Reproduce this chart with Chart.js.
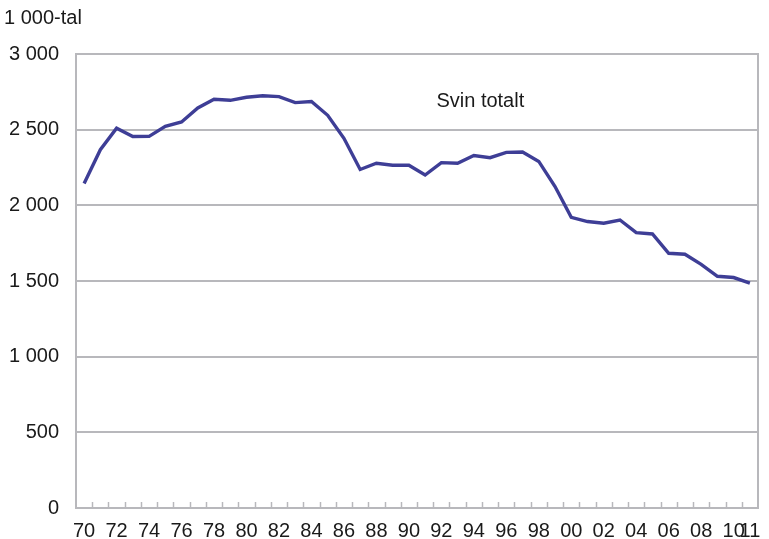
<!DOCTYPE html>
<html>
<head>
<meta charset="utf-8">
<script src="https://cdn.jsdelivr.net/npm/chart.js@4/dist/chart.umd.min.js"></script>
<style>
  html, body { margin: 0; padding: 0; background: #fff; }
  #wrap { width: 769px; height: 539px; }
</style>
</head>
<body>
<div id="wrap"><canvas id="svin"></canvas></div>
<script>
// Svin totalt, 1 000-tal, 1970-2011

const aar = ['70','71','72','73','74','75','76','77','78','79',
             '80','81','82','83','84','85','86','87','88','89',
             '90','91','92','93','94','95','96','97','98','99',
             '00','01','02','03','04','05','06','07','08','09',
             '10','11'];

const svinTotalt = [2145, 2368, 2510, 2455, 2456, 2522, 2551, 2643, 2701, 2694,
                    2714, 2724, 2718, 2679, 2686, 2595, 2443, 2237, 2278, 2265,
                    2265, 2200, 2282, 2278, 2329, 2315, 2350, 2352, 2290, 2124,
                    1921, 1893, 1882, 1903, 1820, 1811, 1683, 1677, 1610, 1531,
                    1523, 1486];

const yTicks = [0, 500, 1000, 1500, 2000, 2500, 3000];

const GRAA = '#b8b8bc';
const FONT = '"Liberation Sans", Arial, sans-serif';

function tusen(v) {
    // 1 000-stil med mellomrom
    return String(v).replace(/\B(?=(\d{3})+(?!\d))/g, ' ');
}

// Små markeringer oppover fra x-aksen + tekster
const ekstra = {
    id: 'ekstra',
    afterDraw(chart) {
        const ctx = chart.ctx;
        const x = chart.scales.x;
        const y = chart.scales.y;
        const bunn = chart.chartArea.bottom;

        ctx.save();
        ctx.strokeStyle = GRAA;
        ctx.lineWidth = 1.5;
        for (let i = 1; i < aar.length; i++) {
            const px = Math.round((x.getPixelForValue(i - 1) + x.getPixelForValue(i)) / 2) + 0.5;
            ctx.beginPath();
            ctx.moveTo(px, bunn);
            ctx.lineTo(px, bunn - 6);
            ctx.stroke();
        }

        ctx.fillStyle = '#1a1a1a';
        ctx.font = '20px ' + FONT;
        ctx.textBaseline = 'middle';
        ctx.textAlign = 'left';
        ctx.fillText('1 000-tal', 4, 18);

        ctx.textAlign = 'center';
        ctx.fillText('Svin totalt', x.getPixelForValue(24.4), y.getPixelForValue(2685));
        ctx.restore();
    }
};

new Chart(document.getElementById('svin'), {
    type: 'line',
    data: {
        labels: aar,
        datasets: [{
            label: 'Svin totalt',
            data: svinTotalt,
            borderColor: '#3e3e96',
            borderWidth: 3.4,
            pointRadius: 0,
            tension: 0,
            fill: false
        }]
    },
    options: {
        responsive: true,
        maintainAspectRatio: false,
        animation: false,
        layout: { padding: { top: 54, right: 11, left: 0, bottom: 0 } },
        plugins: {
            legend: { display: false },
            tooltip: { enabled: false }
        },
        scales: {
            x: {
                offset: true,
                border: { color: GRAA, width: 2 },
                grid: { display: false, drawTicks: false },
                ticks: {
                    autoSkip: false,
                    maxRotation: 0,
                    padding: 11,
                    color: '#1a1a1a',
                    font: { family: FONT, size: 20 },
                    callback: (v, i) => (i % 2 === 0 || i === aar.length - 1) ? aar[i] : null
                },
                afterFit(scale) {
                    scale.height = 31;
                    scale.paddingLeft = 0;
                    scale.paddingRight = 0;
                }
            },
            y: {
                min: 0,
                max: 3000,
                afterBuildTicks(scale) { scale.ticks = yTicks.map(v => ({ value: v })); },
                border: { color: GRAA, width: 2 },
                grid: { color: GRAA, lineWidth: 2, drawTicks: false },
                ticks: {
                    padding: 17,
                    color: '#1a1a1a',
                    font: { family: FONT, size: 20 },
                    callback: v => tusen(v)
                },
                afterFit(scale) { scale.width = 76; }
            },
            yHoyre: {
                position: 'right',
                min: 0,
                max: 3000,
                border: { color: GRAA, width: 2 },
                grid: { display: false, drawTicks: false },
                ticks: { display: false },
                afterFit(scale) { scale.width = 0; }
            }
        }
    },
    plugins: [ekstra]
});
</script>
</body>
</html>
